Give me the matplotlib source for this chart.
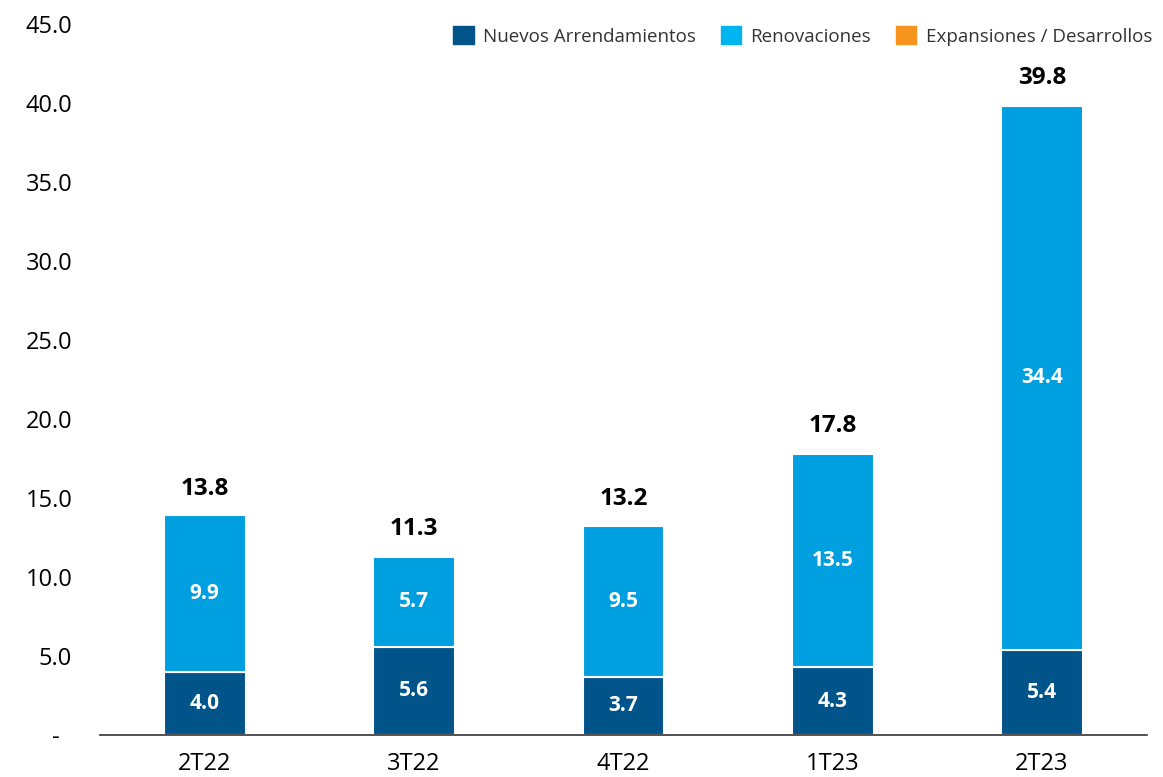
import numpy as np
import matplotlib.pyplot as plt
from matplotlib.patches import Patch

plt.rcParams['font.family'] = ['Open Sans', 'DejaVu Sans']

# Datos
trimestres = ['2T22', '3T22', '4T22', '1T23', '2T23']
nuevos = np.array([4.0, 5.6, 3.7, 4.3, 5.4])
renovaciones = np.array([9.9, 5.7, 9.5, 13.5, 34.4])
expansiones = np.array([0.0, 0.0, 0.0, 0.0, 0.0])
totales = np.array([13.8, 11.3, 13.2, 17.8, 39.8])
yticks = [0, 5, 10, 15, 20, 25, 30, 35, 40, 45]
ytick_labels = ['-  '] + [f'{v:.1f}' for v in yticks[1:]]

c_nuevos = '#00548A'
c_renov = '#009FDF'
c_renov_leg = '#00B4F0'
c_exp = '#F7941D'

fig = plt.figure(figsize=(11.63, 7.77), dpi=100)
ax = fig.add_axes([0.086, 0.054, 0.9, 0.915])

x = np.arange(len(trimestres))
w = 0.39
ax.bar(x, nuevos, w, color=c_nuevos, edgecolor='white', linewidth=1.5)
ax.bar(x, renovaciones, w, bottom=nuevos, color=c_renov, edgecolor='white', linewidth=1.5)
ax.bar(x, expansiones, w, bottom=nuevos + renovaciones, color=c_exp, linewidth=0)

# Etiquetas dentro de las barras
for i in range(len(x)):
    ax.text(x[i], nuevos[i] / 2, f'{nuevos[i]:.1f}', ha='center', va='center',
            color='white', fontsize=15, fontweight='bold')
    ax.text(x[i], nuevos[i] + renovaciones[i] / 2, f'{renovaciones[i]:.1f}', ha='center',
            va='center', color='white', fontsize=15, fontweight='bold')
    ax.text(x[i], totales[i] + 1.0, f'{totales[i]:.1f}', ha='center', va='bottom',
            color='black', fontsize=17.5, fontweight='bold')

ax.set_xlim(-0.5, 4.5)
ax.set_ylim(0, 45)
ax.set_xticks(x)
ax.set_xticklabels(trimestres, fontsize=17)
ax.set_yticks(yticks)
ax.set_yticklabels(ytick_labels, fontsize=17)
ax.tick_params(axis='both', length=0)
ax.tick_params(axis='x', pad=12)
ax.tick_params(axis='y', pad=20)
for s in ['top', 'right', 'left']:
    ax.spines[s].set_visible(False)
ax.spines['bottom'].set_color('#333333')
ax.spines['bottom'].set_linewidth(1.2)

handles = [Patch(color=c_nuevos, label='Nuevos Arrendamientos'),
           Patch(color=c_renov_leg, label='Renovaciones'),
           Patch(color=c_exp, label='Expansiones / Desarrollos')]
fig.legend(handles=handles, loc='upper right', bbox_to_anchor=(1.005, 0.988), ncol=3,
           frameon=False, fontsize=13.5, handlelength=1.1, handleheight=1.1,
           handletextpad=0.5, columnspacing=1.3, labelcolor='#333333')

fig.savefig('out.png', dpi=100)
